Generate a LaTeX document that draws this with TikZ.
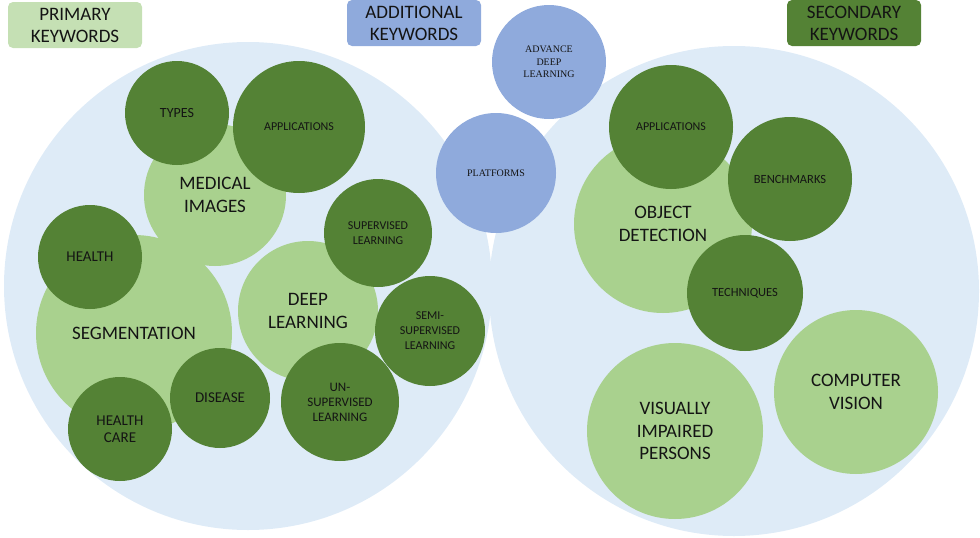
\documentclass[tikz,border=0pt]{standalone}
\usepackage{fontspec}
\setmainfont{Carlito}
\newfontfamily\tnrfont{Liberation Serif}
\definecolor{Cbg}{RGB}{222,235,247}
\definecolor{Clg}{RGB}{169,209,142}
\definecolor{Cdg}{RGB}{84,130,53}
\definecolor{Cbl}{RGB}{143,170,220}
\definecolor{Clab}{RGB}{197,224,180}
\definecolor{Ctx}{RGB}{20,20,20}

\begin{document}
\begin{tikzpicture}[x=1pt,y=-1pt,
    bub/.style={circle,inner sep=0pt,align=center,text=Ctx,minimum size=#1},
    lightbub/.style={bub=#1,fill=Clg,font=\fontsize{19}{22.5}\selectfont},
    darkbub/.style={bub=#1,fill=Cdg},
    bluebub/.style={bub=#1,fill=Cbl,font=\tnrfont\fontsize{10}{12.5}\selectfont},
    keybox/.style={rounded corners=5pt,minimum width=134pt,minimum height=46pt,
      inner sep=0pt,align=center,text=Ctx,font=\fontsize{19}{22}\selectfont}]
  \useasboundingbox (0,0) rectangle (980,538);
    % the two big fields
    \node[bub=488pt,fill=Cbg] (primary) at (248,286) {};
    \node[bub=490pt,fill=Cbg] (secondary) at (734,291) {};
    % main keywords
    \node[lightbub=142pt] (medimg) at (215,195) {MEDICAL\\IMAGES};
    \node[lightbub=196pt] (seg) at (134,333) {SEGMENTATION};
    \node[lightbub=140pt] (deep) at (308,311) {DEEP\\LEARNING};
    \node[lightbub=178pt] (objdet) at (663,224) {OBJECT\\DETECTION};
    \node[lightbub=176pt] (vip) at (675,431) {VISUALLY\\IMPAIRED\\PERSONS};
    \node[lightbub=164pt] (cv) at (856,392) {COMPUTER\\VISION};
    % sub topics
    \foreach \px/\py/\d/\nm/\fs/\bs/\txt in {
        177/113/104/types/14/16/TYPES,
        299/127/132/applL/12/14/APPLICATIONS,
        90/257/104/health/15/17/HEALTH,
        378/233/108/sup/12/14.5/{SUPERVISED\\LEARNING},
        430/331/110/semi/12/15/{SEMI-\\SUPERVISED\\LEARNING},
        340/402/118/unsup/13/15/{UN-\\SUPERVISED\\LEARNING},
        220/398/100/disease/15/17/DISEASE,
        120/429/104/hcare/15/17/{HEALTH\\CARE},
        671/127/124/applR/12/14/APPLICATIONS,
        790/179/124/bench/12.5/14/BENCHMARKS,
        745/293/116/tech/12.5/14/TECHNIQUES}{
      \node[darkbub=\d pt,font=\fontsize{\fs}{\bs}\selectfont] (\nm) at (\px,\py) {\txt};
    }
    % additional keywords
    \node[bluebub=114pt] (adl) at (549,62) {ADVANCE\\DEEP\\LEARNING};
    \node[bluebub=120pt] (plat) at (496,173) {PLATFORMS};
    % legend boxes
    \node[keybox,fill=Clab] (kprim) at (75,25) {PRIMARY\\KEYWORDS};
    \node[keybox,fill=Cbl] (kadd) at (414,23) {ADDITIONAL\\KEYWORDS};
    \node[keybox,fill=Cdg] (ksec) at (854,23) {SECONDARY\\KEYWORDS};
  \end{tikzpicture}
\end{document}
